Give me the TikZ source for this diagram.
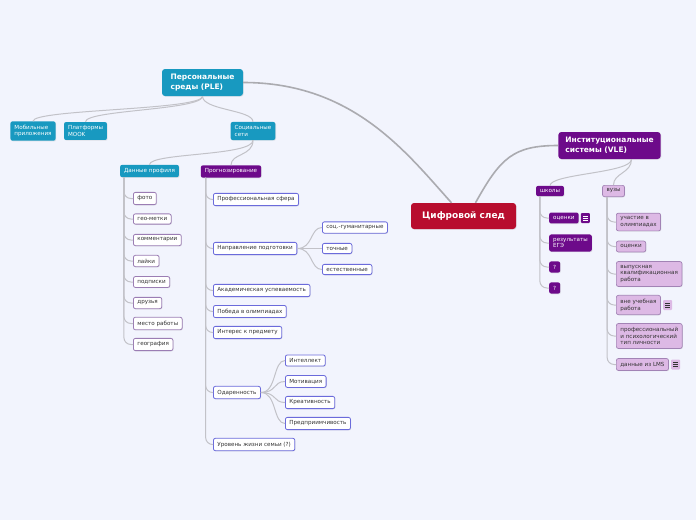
\documentclass[tikz,border=0pt]{standalone}
\usepackage{fontspec}
\setmainfont{DejaVu Sans}
\usetikzlibrary{positioning, calc, shadows}
\definecolor{Canvas}{HTML}{F2F4FD}
\definecolor{Teal}{HTML}{1899C0}
\definecolor{Plum}{HTML}{6D0A8A}
\definecolor{Crimson}{HTML}{B80D2E}
\definecolor{Lilac}{HTML}{DDB9E5}
\definecolor{LilacEdge}{HTML}{A283B5}
\definecolor{Violet}{HTML}{6B6BDB}
\definecolor{Mauve}{HTML}{9B7DB4}
\definecolor{Ink}{HTML}{333333}
\definecolor{Wire}{HTML}{C2C2C8}
\definecolor{Trunk}{HTML}{ABABB0}
\newcommand{\smallfont}{\fontsize{5.6}{6.8}\selectfont}
\newcommand{\headfont}{\fontsize{7.5}{9.5}\selectfont\bfseries}
\tikzset{
    basebox/.style={rectangle, rounded corners=2pt, align=left, inner xsep=4pt, inner ysep=3.5pt, font=\smallfont,
        drop shadow={opacity=0.18, shadow xshift=0.7pt, shadow yshift=-0.7pt}},
    tealbox/.style={basebox, fill=Teal, text=white},
    plumbox/.style={basebox, fill=Plum, text=white},
    lilacbox/.style={basebox, fill=Lilac, draw=LilacEdge, text=Ink, line width=0.7pt},
    leafbox/.style={basebox, fill=white, draw=Mauve, text=Ink, line width=0.8pt, anchor=west},
    taskbox/.style={basebox, fill=white, draw=Violet, text=Ink, line width=0.8pt, anchor=west},
    headbox/.style={basebox, font=\headfont, inner xsep=7pt, inner ysep=5pt, rounded corners=3pt},
    link/.style={draw=Wire, line width=1pt},
    mainlink/.style={draw=Trunk, line width=1.6pt},
    noteicon/.style 2 args={rectangle, rounded corners=1pt, fill=#1, minimum width=9pt, minimum height=10pt, inner sep=0pt,
        path picture={\foreach \k in {-2.2,0,2.2}
            \draw[#2, line width=0.6pt] ([xshift=-2.5pt, yshift=\k pt]path picture bounding box.center) -- ++(5pt,0);}},
}

\begin{document}
\begin{tikzpicture}[x=1pt, y=-1pt]
    \fill[Canvas] (0,0) rectangle (696,520);
    \useasboundingbox (0,0) rectangle (696,520);

    % --- CENTRO ---
    \node[headbox, fill=Crimson, text=white, font=\fontsize{9}{11}\selectfont\bfseries, minimum width=105pt, minimum height=26pt] (trace) at (463.5,216) {Цифровой след};

    % --- PLE ---
    \node[headbox, fill=Teal, text=white, minimum width=81pt, minimum height=27pt] (ple) at (202.5,82.5) {Персональные\\среды (PLE)};
    \node[tealbox] (mob) at (33,131) {Мобильные\\приложения};
    \node[tealbox] (mooc) at (85.5,131) {Платформы\\MOOK};
    \node[tealbox] (soc) at (253,131) {Социальные\\сети};

    \node[tealbox] (dp) at (149.5,171) {Данные профиля};
    \node[plumbox] (prog) at (231,171.5) {Прогнозирование};

    % Dati del profilo
    \node[leafbox] (dp1) at (133,198.5) {фото};
    \node[leafbox] (dp2) at (133,219) {гео-метки};
    \node[leafbox] (dp3) at (133,240) {комментарии};
    \node[leafbox] (dp4) at (133,261) {лайки};
    \node[leafbox] (dp5) at (133,282) {подписки};
    \node[leafbox] (dp6) at (133,303) {друзья};
    \node[leafbox] (dp7) at (133,323.5) {место работы};
    \node[leafbox] (dp8) at (133,344.5) {география};

    % Previsione
    \node[taskbox] (pr1) at (213,199.5) {Профессиональная сфера};
    \node[taskbox] (pr2) at (213,248.5) {Направление подготовки};
    \node[taskbox] (pr3) at (213,290.5) {Академическая успеваемость};
    \node[taskbox] (pr4) at (213,311.5) {Победа в олимпиадах};
    \node[taskbox] (pr5) at (213,332.5) {Интерес к предмету};
    \node[taskbox] (pr6) at (213,392.5) {Одаренность};
    \node[taskbox] (pr7) at (213,444.5) {Уровень жизни семьи (?)};

    \node[taskbox] (dir1) at (322,227.5) {соц.-гуманитарные};
    \node[taskbox] (dir2) at (322,248.5) {точные};
    \node[taskbox] (dir3) at (322,269.5) {естественные};

    \node[taskbox] (gift1) at (285,360.5) {Интеллект};
    \node[taskbox] (gift2) at (285,381.5) {Мотивация};
    \node[taskbox] (gift3) at (285,402.5) {Креативность};
    \node[taskbox] (gift4) at (285,423.5) {Предприимчивость};

    % --- VLE ---
    \node[headbox, fill=Plum, text=white, minimum width=101pt, minimum height=27pt] (vle) at (609.5,145.5) {Институциональные\\системы (VLE)};
    \node[plumbox] (school) at (550,191) {школы};
    \node[lilacbox, text=Ink] (univ) at (613.5,191) {вузы};

    \node[plumbox, anchor=west] (sc1) at (549,218) {оценки};
    \node[noteicon={Plum}{white}, right=2pt of sc1] (sc1note) {};
    \node[plumbox, anchor=west] (sc2) at (549,243) {результаты\\ЕГЭ};
    \node[plumbox, anchor=west] (sc3) at (549,267) {?};
    \node[plumbox, anchor=west] (sc4) at (549,288) {?};

    \node[lilacbox, anchor=west] (un1) at (616,222) {участие в\\олимпиадах};
    \node[lilacbox, anchor=west] (un2) at (616,246.5) {оценки};
    \node[lilacbox, anchor=west] (un3) at (616,274) {выпускная\\квалификационная\\работа};
    \node[lilacbox, anchor=west] (un4) at (616,305) {вне учебная\\работа};
    \node[noteicon={Lilac}{Ink}, right=2pt of un4] (un4note) {};
    \node[lilacbox, anchor=west] (un5) at (616,336) {профессиональный\\и психологический\\тип личности};
    \node[lilacbox, anchor=west] (un6) at (616,364.5) {данные из LMS};
    \node[noteicon={Lilac}{Ink}, right=2pt of un6] (un6note) {};

    % --- Collegamenti ---
    \draw[mainlink] ([xshift=-12pt]trace.north) .. controls +(-45,-50) and +(110,0) .. (ple.east);
    \draw[mainlink] ([xshift=12pt]trace.north) .. controls +(25,-45) and +(-45,0) .. (vle.west);

    \foreach \c in {mob, mooc, soc}
        \draw[link] (ple.south) .. controls +(0,14) and +(0,-12) .. (\c.north);
    \foreach \c in {dp, prog}
        \draw[link] (soc.south) .. controls +(0,16) and +(0,-12) .. (\c.north);

    \foreach \c in {dp1, dp2, dp3, dp4, dp5, dp6, dp7, dp8}
        \draw[link, rounded corners=7pt] ([xshift=4pt]dp.south west) |- (\c.west);
    \foreach \c in {pr1, pr2, pr3, pr4, pr5, pr6, pr7}
        \draw[link, rounded corners=7pt] ([xshift=5pt]prog.south west) |- (\c.west);
    \foreach \c in {dir1, dir2, dir3}
        \draw[link] (pr2.east) .. controls +(16,0) and +(-12,0) .. (\c.west);
    \foreach \c in {gift1, gift2, gift3, gift4}
        \draw[link] (pr6.east) .. controls +(16,0) and +(-12,0) .. (\c.west);

    \foreach \c in {school, univ}
        \draw[link] ([xshift=22pt]vle.south) .. controls +(0,14) and +(0,-12) .. (\c.north);
    \foreach \c in {sc1, sc2, sc3, sc4}
        \draw[link, rounded corners=7pt] ([xshift=4pt]school.south west) |- (\c.west);
    \foreach \c in {un1, un2, un3, un4, un5, un6}
        \draw[link, rounded corners=7pt] ([xshift=5pt]univ.south west) |- (\c.west);
\end{tikzpicture}
\end{document}
